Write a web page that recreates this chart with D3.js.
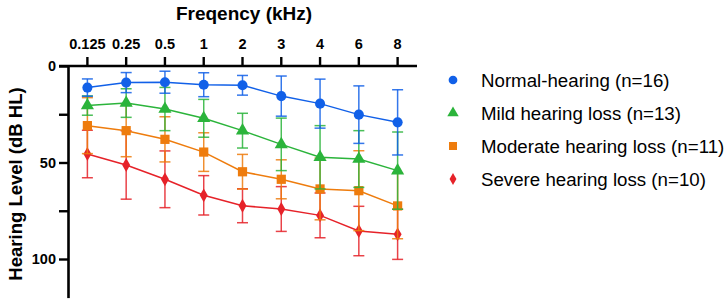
<!DOCTYPE html>
<html><head><meta charset="utf-8">
<script src="https://cdn.jsdelivr.net/npm/d3@7"></script>
<style>body{margin:0;background:#fff}svg{display:block}</style>
</head><body>
<script>
const frequencies = ["0.125","0.25","0.5","1","2","3","4","6","8"];
const seriesNames = ["Normal-hearing (n=16)","Mild hearing loss (n=13)","Moderate hearing loss (n=11)","Severe hearing loss (n=10)"];
const normalMean = [11.2, 8.6, 8.4, 9.7, 10.0, 15.6, 19.5, 25.2, 29.2];
const normalSD   = [4.5, 5.2, 5.7, 6.2, 5.1, 10.4, 12.7, 14.9, 16.9];
const mildMean   = [20.5, 19.2, 22.3, 27.1, 33.5, 40.6, 47.3, 48.2, 54.2];
const mildSD     = [5.0, 7.4, 11.2, 9.8, 9.0, 13.6, 16.4, 14.7, 20.0];
const modMean    = [30.9, 33.5, 38.0, 44.6, 54.8, 58.7, 63.7, 64.6, 72.5];
const modSD      = [14.5, 13.5, 11.7, 10.0, 9.0, 10.1, 16.0, 20.7, 17.0];
const sevMean    = [45.6, 51.3, 58.7, 67.0, 72.4, 74.1, 77.4, 85.5, 87.2];
const sevSD      = [12.3, 17.7, 14.7, 10.2, 8.8, 11.6, 11.6, 12.8, 13.0];
const yTickLabels = [0, 50, 100];

const colors = ["#1160e8", "#2bb43b", "#ee7c0d", "#e62229"];
const symbols = [d3.symbolCircle, d3.symbolTriangle, d3.symbolSquare, d3.symbolDiamond];
const sizes = [80, 75, 85, 55];

const series = [
  {name: seriesNames[0], mean: normalMean, sd: normalSD},
  {name: seriesNames[1], mean: mildMean, sd: mildSD},
  {name: seriesNames[2], mean: modMean, sd: modSD},
  {name: seriesNames[3], mean: sevMean, sd: sevSD}
];

const W = 727, H = 303;
const svg = d3.select("body").append("svg").attr("width", W).attr("height", H);

const x = d3.scaleBand().domain(frequencies).range([68, 417]).paddingInner(0).paddingOuter(0);
const y = d3.scaleLinear().domain([0, 120]).range([66, 297.6]);
const xc = d => x(d) + x.bandwidth() / 2;

const font = "'Liberation Sans', Arial, sans-serif";

// Axes
const gx = svg.append("g").attr("transform", "translate(0,66)")
  .call(d3.axisTop(x).tickSize(9).tickPadding(8).tickSizeOuter(0));
gx.select(".domain").attr("d", "M59,0H417");
const gy = svg.append("g").attr("transform", "translate(68,0)")
  .call(d3.axisLeft(y).tickValues([0,25,50,75,100]).tickSize(9).tickPadding(3).tickSizeOuter(0)
    .tickFormat(d => yTickLabels.includes(d) ? d : ""));
[gx, gy].forEach(g => {
  g.selectAll(".domain").attr("stroke", "#000").attr("stroke-width", 2.6);
  g.selectAll(".tick line").attr("stroke", "#000").attr("stroke-width", 2.4);
  g.selectAll(".tick text").attr("fill", "#000").attr("font-family", font)
    .attr("font-weight", "bold").attr("font-size", 14.5);
});

svg.append("text").attr("x", 244).attr("y", 20).attr("text-anchor", "middle")
  .attr("font-family", font).attr("font-weight", "bold").attr("font-size", 19)
  .text("Freqency (kHz)");
svg.append("text").attr("transform", "translate(22,184) rotate(-90)").attr("text-anchor", "middle")
  .attr("font-family", font).attr("font-weight", "bold").attr("font-size", 18.5)
  .text("Hearing Level (dB HL)");

// Draw series (severe first so normal on top)
const line = d3.line().x((d, i) => xc(frequencies[i])).y(d => y(d));
series.map((s, k) => ({...s, k})).reverse().forEach(s => {
  const g = svg.append("g");
  const c = colors[s.k];
  s.mean.forEach((m, i) => {
    const cx = xc(frequencies[i]);
    const lo = m - s.sd[i], hi = m + s.sd[i];
    g.append("line").attr("x1", cx).attr("x2", cx).attr("y1", y(lo)).attr("y2", y(hi))
      .attr("stroke", c).attr("stroke-width", 1.5).attr("opacity", 0.85);
    [lo, hi].forEach(v => g.append("line").attr("x1", cx - 5.5).attr("x2", cx + 5.5)
      .attr("y1", y(v)).attr("y2", y(v)).attr("stroke", c).attr("stroke-width", 1.5).attr("opacity", 0.85));
  });
  g.append("path").attr("d", line(s.mean)).attr("fill", "none").attr("stroke", c).attr("stroke-width", 1.5);
  g.selectAll("path.m").data(s.mean).join("path").attr("class", "m")
    .attr("transform", (d, i) => `translate(${xc(frequencies[i])},${y(d)})`)
    .attr("d", d3.symbol().type(symbols[s.k]).size(sizes[s.k])).attr("fill", c);
});

// Legend
const lg = svg.append("g");
seriesNames.forEach((n, k) => {
  const ly = 80 + k * 33;
  lg.append("path").attr("transform", `translate(453,${ly})`)
    .attr("d", d3.symbol().type(symbols[k]).size(sizes[k] * 0.75)).attr("fill", colors[k]);
  lg.append("text").attr("x", 481).attr("y", ly).attr("dy", "0.35em")
    .attr("font-family", font).attr("font-size", 18.7).attr("fill", "#000").text(n);
});
</script>
</body></html>
